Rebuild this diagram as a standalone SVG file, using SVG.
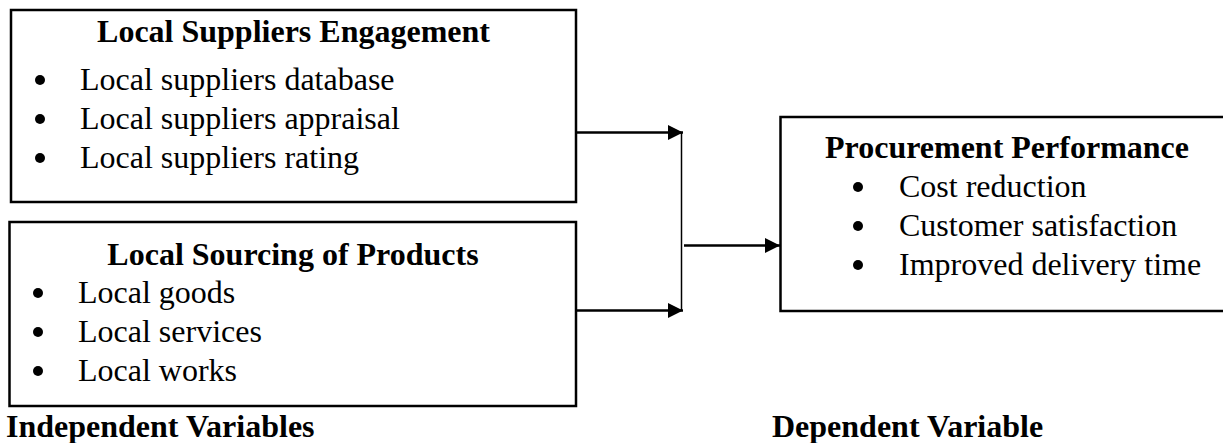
<svg xmlns="http://www.w3.org/2000/svg" width="1223" height="443" viewBox="0 0 1223 443">
<style>
.box{fill:#fff;stroke:#000;stroke-width:2.5}
.t{font-family:"Liberation Serif","Times New Roman",serif;font-size:32px;fill:#000}
.b{font-weight:bold}
.c{text-anchor:middle}
.line{stroke:#000;stroke-width:2.5;fill:none}
.thin{stroke:#000;stroke-width:1.5;fill:none}
</style>
<defs>
<marker id="ah" markerUnits="userSpaceOnUse" markerWidth="16" markerHeight="16" refX="15" refY="7.5" orient="auto">
<path d="M0,0 L15,7.5 L0,15 z" fill="#000"/>
</marker>
</defs>
<rect width="1223" height="443" fill="#fff"/>
<g id="connectors">
<line class="line" x1="576" y1="132.5" x2="683" y2="132.5" marker-end="url(#ah)"/>
<line class="line" x1="574" y1="310.5" x2="683" y2="310.5" marker-end="url(#ah)"/>
<line class="thin" x1="681.5" y1="132" x2="681.5" y2="311"/>
<line class="line" x1="684" y1="245.5" x2="780" y2="245.5" marker-end="url(#ah)"/>
</g>
<g id="node-engagement">
<rect class="box" x="11" y="10" width="565" height="192"/>
<text class="t b c" x="293.5" y="42">Local Suppliers Engagement</text>
<circle cx="40" cy="80" r="5"/><text class="t" x="80" y="90">Local suppliers database</text>
<circle cx="40" cy="119" r="5"/><text class="t" x="80" y="129">Local suppliers appraisal</text>
<circle cx="40" cy="158" r="5"/><text class="t" x="80" y="168">Local suppliers rating</text>
</g>
<g id="node-sourcing">
<rect class="box" x="9.5" y="222" width="566.5" height="184"/>
<text class="t b c" x="293" y="265">Local Sourcing of Products</text>
<circle cx="38" cy="293" r="5"/><text class="t" x="78" y="303">Local goods</text>
<circle cx="38" cy="332" r="5"/><text class="t" x="78" y="342">Local services</text>
<circle cx="38" cy="371" r="5"/><text class="t" x="78" y="381">Local works</text>
</g>
<g id="node-performance">
<rect class="box" x="780.5" y="117" width="460" height="194"/>
<text class="t b c" x="1007" y="158">Procurement Performance</text>
<circle cx="858" cy="187" r="5"/><text class="t" x="899" y="197">Cost reduction</text>
<circle cx="858" cy="226" r="5"/><text class="t" x="899" y="236">Customer satisfaction</text>
<circle cx="858" cy="265" r="5"/><text class="t" x="899" y="275">Improved delivery time</text>
</g>
<g id="labels">
<text class="t b" x="6" y="437">Independent Variables</text>
<text class="t b" x="772" y="437">Dependent Variable</text>
</g>
</svg>
